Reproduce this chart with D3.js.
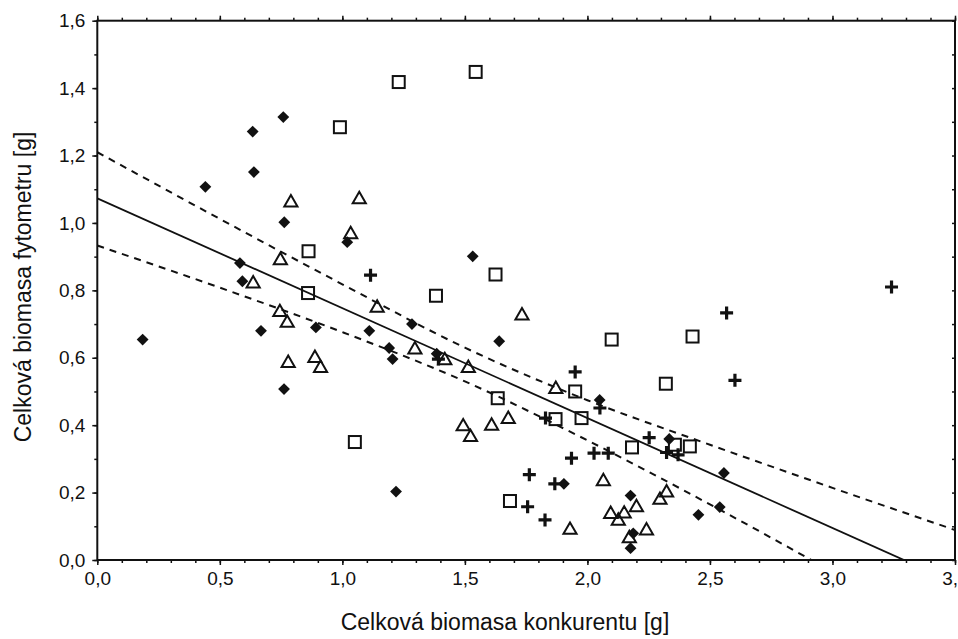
<!DOCTYPE html>
<html>
<head>
<meta charset="utf-8">
<script src="https://cdn.jsdelivr.net/npm/d3@7"></script>
<style>
  body { margin: 0; background: #fff; }
  text { font-family: "Liberation Sans", Arial, sans-serif; fill: #111; }
</style>
</head>
<body>
<div id="chart"></div>
<script>
// values
var diamonds = [
  [0.185, 0.654], [0.441, 1.107], [0.582, 0.881], [0.592, 0.827], [0.634, 1.271],
  [0.639, 1.151], [0.668, 0.680], [0.759, 1.314], [0.763, 1.002], [0.762, 0.507],
  [0.892, 0.690], [1.020, 0.943], [1.110, 0.680], [1.191, 0.629], [1.205, 0.596],
  [1.219, 0.203], [1.284, 0.700], [1.385, 0.612], [1.532, 0.901], [1.640, 0.649],
  [1.904, 0.226], [2.050, 0.475], [2.176, 0.191], [2.187, 0.079], [2.176, 0.035],
  [2.334, 0.359], [2.453, 0.134], [2.540, 0.157], [2.557, 0.258]
];
var squares = [
  [0.860, 0.792], [0.862, 0.916], [0.990, 1.284], [1.051, 0.350], [1.230, 1.418],
  [1.382, 0.784], [1.544, 1.448], [1.625, 0.847], [1.634, 0.480], [1.684, 0.175],
  [1.870, 0.418], [1.950, 0.500], [1.976, 0.421], [2.099, 0.654], [2.182, 0.334],
  [2.320, 0.523], [2.357, 0.342], [2.418, 0.337], [2.429, 0.663]
];
var triangles = [
  [0.636, 0.820], [0.745, 0.735], [0.747, 0.889], [0.775, 0.703], [0.779, 0.584],
  [0.790, 1.060], [0.888, 0.599], [0.911, 0.569], [1.034, 0.966], [1.069, 1.070],
  [1.142, 0.748], [1.296, 0.624], [1.418, 0.592], [1.493, 0.396], [1.514, 0.569],
  [1.523, 0.364], [1.609, 0.398], [1.677, 0.418], [1.733, 0.725], [1.871, 0.507],
  [1.929, 0.089], [2.065, 0.233], [2.095, 0.136], [2.126, 0.116], [2.150, 0.137],
  [2.171, 0.064], [2.200, 0.156], [2.241, 0.087], [2.296, 0.178], [2.323, 0.200]
];
var crosses = [
  [1.115, 0.845], [1.392, 0.596], [1.756, 0.158], [1.763, 0.253], [1.827, 0.119],
  [1.829, 0.421], [1.867, 0.226], [1.935, 0.302], [1.950, 0.558], [2.027, 0.317],
  [2.051, 0.451], [2.085, 0.317], [2.252, 0.363], [2.323, 0.319], [2.370, 0.312],
  [2.568, 0.733], [2.602, 0.533], [3.241, 0.810]
];
var fitLine = [[0, 1.073], [3.5, -0.068]];
var upperBand = [[0, 1.210], [0.5, 1.012], [1.0, 0.818], [1.5, 0.630], [2.0, 0.474],
                 [2.5, 0.342], [3.0, 0.214], [3.5, 0.089]];
var lowerBand = [[0, 0.933], [0.5, 0.808], [1.0, 0.676], [1.5, 0.530], [2.0, 0.355],
                 [2.5, 0.165], [3.0, -0.035]];
var xTicks = [0, 0.5, 1.0, 1.5, 2.0, 2.5, 3.0, 3.5];
var yTicks = [0, 0.2, 0.4, 0.6, 0.8, 1.0, 1.2, 1.4, 1.6];

var width = 958, height = 639;
var margin = {left: 97.3, right: 955, top: 20.7, bottom: 560};

var svg = d3.select("#chart").append("svg")
    .attr("width", width)
    .attr("height", height);

svg.append("rect").attr("width", width).attr("height", height).attr("fill", "#fff");

var x = d3.scaleLinear().domain([0, 3.5]).range([margin.left, margin.right]);
var y = d3.scaleLinear().domain([0, 1.6]).range([margin.bottom, margin.top]);

var fmt = d3.formatLocale({decimal: ",", thousands: " ", grouping: [3], currency: ["", ""]}).format(".1f");

var minorX = d3.range(0, 36).map(function(i) { return i / 10; });
var minorY = d3.range(0, 17).map(function(i) { return i / 10; });

// minor ticks
svg.append("g").attr("transform", "translate(0," + margin.bottom + ")")
  .call(d3.axisBottom(x).tickValues(minorX).tickSize(3).tickFormat(""));
svg.append("g").attr("transform", "translate(0," + margin.top + ")")
  .call(d3.axisTop(x).tickValues(minorX).tickSize(3).tickFormat(""));
svg.append("g").attr("transform", "translate(" + margin.left + ",0)")
  .call(d3.axisLeft(y).tickValues(minorY).tickSize(3).tickFormat(""));
svg.append("g").attr("transform", "translate(" + margin.right + ",0)")
  .call(d3.axisLeft(y).tickValues(minorY).tickSize(3).tickFormat(""));

// major ticks + labels
var xAxis = svg.append("g").attr("transform", "translate(0," + margin.bottom + ")")
  .call(d3.axisBottom(x).tickValues(xTicks).tickSize(5).tickPadding(7).tickFormat(fmt));
var yAxis = svg.append("g").attr("transform", "translate(" + margin.left + ",0)")
  .call(d3.axisLeft(y).tickValues(yTicks).tickSize(5).tickPadding(7).tickFormat(fmt));
svg.append("g").attr("transform", "translate(0," + margin.top + ")")
  .call(d3.axisTop(x).tickValues(xTicks).tickSize(5).tickFormat(""));

svg.selectAll(".domain").remove();
svg.selectAll(".tick line").attr("stroke", "#111").attr("stroke-width", 1.5);
xAxis.attr("font-size", 19).attr("font-family", null);
yAxis.attr("font-size", 19).attr("font-family", null);
svg.selectAll(".tick text").attr("fill", "#111");

// frame
svg.append("rect")
  .attr("x", margin.left).attr("y", margin.top)
  .attr("width", margin.right - margin.left).attr("height", margin.bottom - margin.top)
  .attr("fill", "none").attr("stroke", "#111").attr("stroke-width", 2);

// lines
svg.append("clipPath").attr("id", "plot")
  .append("rect").attr("x", margin.left).attr("y", margin.top)
  .attr("width", margin.right - margin.left).attr("height", margin.bottom - margin.top);

var line = d3.line()
  .x(function(d) { return x(d[0]); })
  .y(function(d) { return y(d[1]); });
var curve = d3.line()
  .x(function(d) { return x(d[0]); })
  .y(function(d) { return y(d[1]); })
  .curve(d3.curveMonotoneX);

var lines = svg.append("g").attr("clip-path", "url(#plot)");
lines.append("path").attr("d", line(fitLine))
  .attr("fill", "none").attr("stroke", "#111").attr("stroke-width", 1.8);
lines.append("path").attr("d", curve(upperBand))
  .attr("fill", "none").attr("stroke", "#111").attr("stroke-width", 2)
  .attr("stroke-dasharray", "7,6");
lines.append("path").attr("d", curve(lowerBand))
  .attr("fill", "none").attr("stroke", "#111").attr("stroke-width", 2)
  .attr("stroke-dasharray", "7,6");

// markers
var marks = svg.append("g");

marks.selectAll(".sq").data(squares).enter().append("rect")
  .attr("x", function(d) { return x(d[0]) - 6; })
  .attr("y", function(d) { return y(d[1]) - 6; })
  .attr("width", 12).attr("height", 12)
  .attr("fill", "none").attr("stroke", "#111").attr("stroke-width", 2);

var tri = d3.symbol().type(d3.symbolTriangle).size(75);
marks.selectAll(".tri").data(triangles).enter().append("path")
  .attr("d", tri)
  .attr("transform", function(d) { return "translate(" + x(d[0]) + "," + y(d[1]) + ")"; })
  .attr("fill", "none").attr("stroke", "#111").attr("stroke-width", 2);

var dia = d3.symbol().type(d3.symbolSquare).size(70);
marks.selectAll(".dia").data(diamonds).enter().append("path")
  .attr("d", dia)
  .attr("transform", function(d) { return "translate(" + x(d[0]) + "," + y(d[1]) + ") rotate(45)"; })
  .attr("fill", "#111");

marks.selectAll(".cr").data(crosses).enter().append("path")
  .attr("d", "M-6.5,0H6.5M0,-6.5V6.5")
  .attr("transform", function(d) { return "translate(" + x(d[0]) + "," + y(d[1]) + ")"; })
  .attr("stroke", "#111").attr("stroke-width", 3.2);

// titles
svg.append("text")
  .attr("x", 505).attr("y", 630)
  .attr("text-anchor", "middle")
  .style("font-size", "23px")
  .text("Celková biomasa konkurentu [g]");

svg.append("text")
  .attr("transform", "translate(31,287) rotate(-90)")
  .attr("text-anchor", "middle")
  .style("font-size", "23px")
  .text("Celková biomasa fytometru [g]");
</script>
</body>
</html>
